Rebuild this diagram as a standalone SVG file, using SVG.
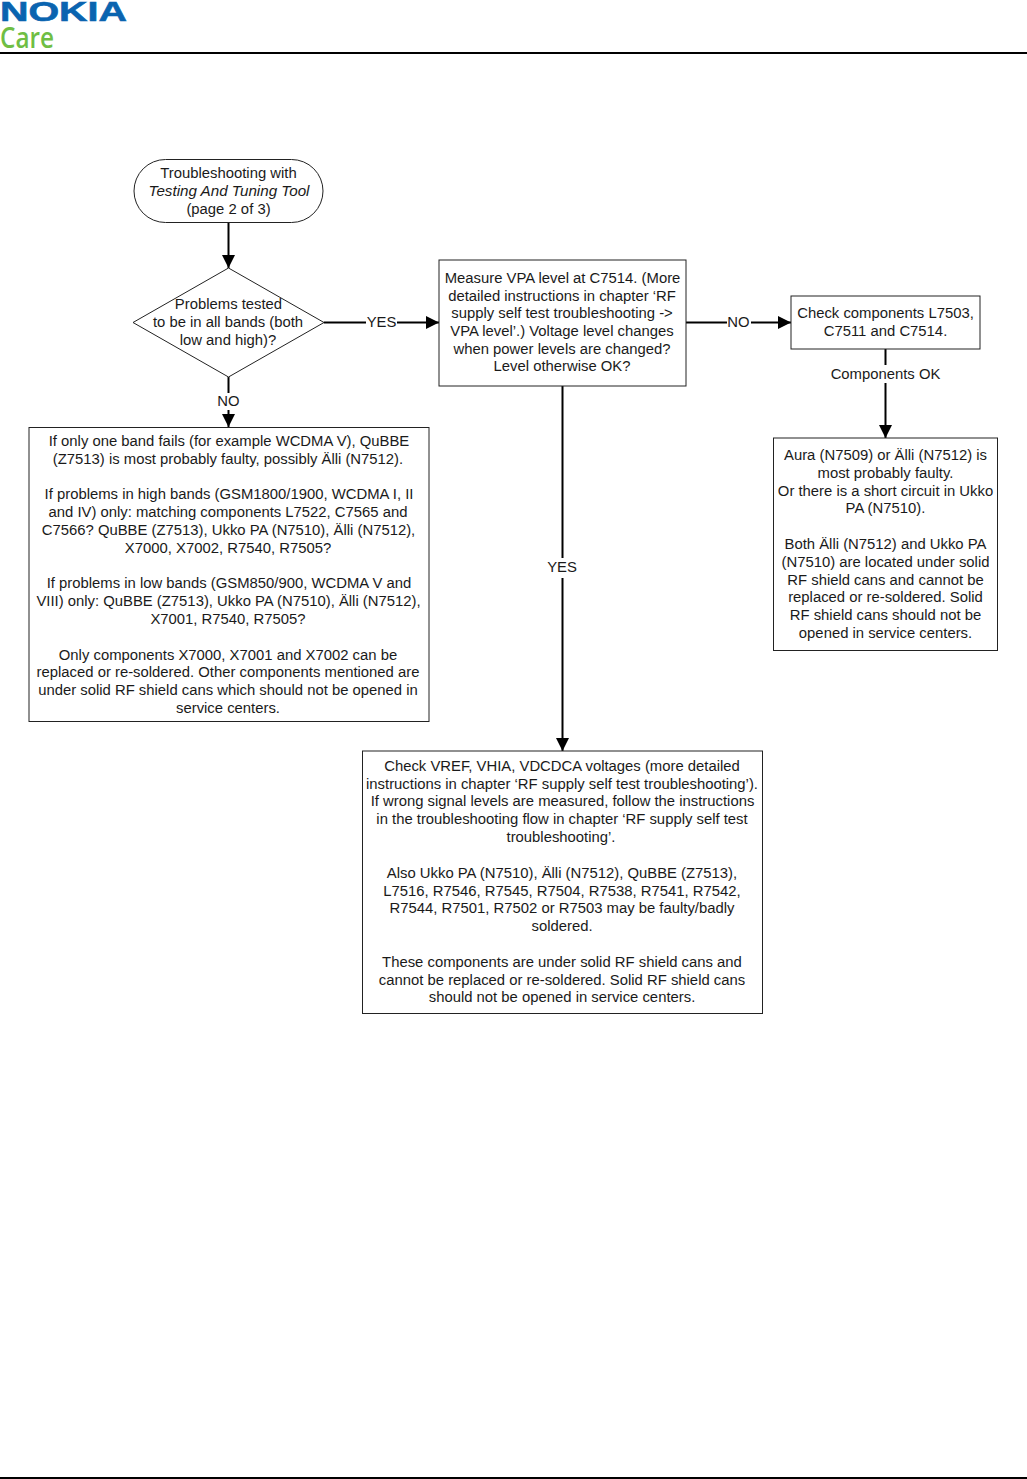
<svg xmlns="http://www.w3.org/2000/svg" width="1027" height="1479" viewBox="0 0 1027 1479">
<style>
text{font-family:"Liberation Sans",Arial,sans-serif;font-size:14.85px;fill:#1a1a1a;text-anchor:middle}
.n{fill:#fff;stroke:#222;stroke-width:1}
.c{fill:none;stroke:#000;stroke-width:2}
.l{fill:#fff;stroke:none}
</style>
<defs><marker id="a" markerUnits="userSpaceOnUse" markerWidth="13" markerHeight="14" refX="13" refY="7" orient="auto"><path d="M0 0.500L13 7L0 13.500Z" fill="#000"/></marker></defs>
<rect width="1027" height="1479" fill="#fff"/>
<g id="header">
<text x="63.500" y="21" textLength="127" lengthAdjust="spacingAndGlyphs" style="font-size:27.500px;font-weight:bold;fill:#0a64b0;stroke:#0a64b0;stroke-width:.6">NOKIA</text>
<text x="27" y="48" textLength="54" lengthAdjust="spacingAndGlyphs" style="font-family:'Open Sans',sans-serif;font-size:28px;font-weight:600;fill:#6fbe44">Care</text>
<rect x="0" y="52" width="1027" height="2" fill="#000"/>
<rect x="0" y="1477" width="1027" height="2" fill="#000"/>
</g>
<g id="connectors">
<path class="c" d="M228.500 223V268" marker-end="url(#a)"/>
<path class="c" d="M324 322.500H439" marker-end="url(#a)"/>
<path class="c" d="M228.500 377V427" marker-end="url(#a)"/>
<path class="c" d="M686 322.500H791" marker-end="url(#a)"/>
<path class="c" d="M885.500 349V438" marker-end="url(#a)"/>
<path class="c" d="M562.500 386V751" marker-end="url(#a)"/>
<rect class="l" x="366" y="314" width="31" height="17"/><text x="381.500" y="327">YES</text>
<rect class="l" x="217" y="393" width="24" height="17"/><text x="228.500" y="406">NO</text>
<rect class="l" x="727" y="314" width="24" height="17"/><text x="738.500" y="327">NO</text>
<rect class="l" x="826" y="365" width="120" height="18"/><text x="885.500" y="379">Components OK</text>
<rect class="l" x="546" y="558" width="33" height="20"/><text x="562" y="572">YES</text>
</g>
<g id="start">
<rect class="n" x="134" y="159.500" width="189" height="63" rx="31.500"/>
<text x="228.500" y="178">Troubleshooting with</text>
<text x="229" y="196" style="font-style:italic;font-size:15.200px">Testing And Tuning Tool</text>
<text x="228.500" y="213.500">(page 2 of 3)</text>
</g>
<g id="decision">
<path class="n" d="M228.500 268L324 322.500L228.500 377L133 322.500Z"/>
<text x="228.500" y="309">Problems tested</text>
<text x="228" y="327">to be in all bands (both</text>
<text x="228" y="344.500">low and high)?</text>
</g>
<g id="bands">
<rect class="n" x="29" y="427.500" width="400" height="294"/>
<text x="229" y="446">If only one band fails (for example WCDMA V), QuBBE</text>
<text x="228" y="463.500">(Z7513) is most probably faulty, possibly Älli (N7512).</text>
<text x="229" y="499">If problems in high bands (GSM1800/1900, WCDMA I, II</text>
<text x="228" y="517">and IV) only: matching components L7522, C7565 and</text>
<text x="228.500" y="534.500">C7566? QuBBE (Z7513), Ukko PA (N7510), Älli (N7512),</text>
<text x="228" y="552.500">X7000, X7002, R7540, R7505?</text>
<text x="229" y="588">If problems in low bands (GSM850/900, WCDMA V and</text>
<text x="228.500" y="606">VIII) only: QuBBE (Z7513), Ukko PA (N7510), Älli (N7512),</text>
<text x="228" y="623.500">X7001, R7540, R7505?</text>
<text x="228" y="659.500">Only components X7000, X7001 and X7002 can be</text>
<text x="228" y="677">replaced or re-soldered. Other components mentioned are</text>
<text x="228" y="695">under solid RF shield cans which should not be opened in</text>
<text x="228" y="712.500">service centers.</text>
</g>
<g id="measure">
<rect class="n" x="439" y="260" width="247" height="126"/>
<text x="562.500" y="282.500">Measure VPA level at C7514. (More</text>
<text x="562" y="300.500">detailed instructions in chapter ‘RF</text>
<text x="562" y="318">supply self test troubleshooting -&gt;</text>
<text x="562" y="336">VPA level’.) Voltage level changes</text>
<text x="562" y="353.500">when power levels are changed?</text>
<text x="562" y="371">Level otherwise OK?</text>
</g>
<g id="check">
<rect class="n" x="791" y="296" width="189" height="53"/>
<text x="885.500" y="317.500">Check components L7503,</text>
<text x="885.500" y="335.500">C7511 and C7514.</text>
</g>
<g id="aura">
<rect class="n" x="773.500" y="438" width="224" height="212.500"/>
<text x="885.500" y="460">Aura (N7509) or Älli (N7512) is</text>
<text x="885.500" y="477.500">most probably faulty.</text>
<text x="885.500" y="495.500">Or there is a short circuit in Ukko</text>
<text x="885.500" y="513">PA (N7510).</text>
<text x="885.500" y="549">Both Älli (N7512) and Ukko PA</text>
<text x="885.500" y="566.500">(N7510) are located under solid</text>
<text x="885.500" y="584.500">RF shield cans and cannot be</text>
<text x="885.500" y="602">replaced or re-soldered. Solid</text>
<text x="885.500" y="620">RF shield cans should not be</text>
<text x="885.500" y="637.500">opened in service centers.</text>
</g>
<g id="vref">
<rect class="n" x="362.500" y="751" width="400" height="262.500"/>
<text x="562" y="771">Check VREF, VHIA, VDCDCA voltages (more detailed</text>
<text x="562" y="789">instructions in chapter ‘RF supply self test troubleshooting’).</text>
<text x="562.500" y="806">If wrong signal levels are measured, follow the instructions</text>
<text x="562" y="824">in the troubleshooting flow in chapter ‘RF supply self test</text>
<text x="561" y="842">troubleshooting’.</text>
<text x="562" y="877.500">Also Ukko PA (N7510), Älli (N7512), QuBBE (Z7513),</text>
<text x="562" y="895.500">L7516, R7546, R7545, R7504, R7538, R7541, R7542,</text>
<text x="562" y="913">R7544, R7501, R7502 or R7503 may be faulty/badly</text>
<text x="562" y="931">soldered.</text>
<text x="562" y="966.500">These components are under solid RF shield cans and</text>
<text x="562" y="984.500">cannot be replaced or re-soldered. Solid RF shield cans</text>
<text x="562" y="1002">should not be opened in service centers.</text>
</g>
</svg>
